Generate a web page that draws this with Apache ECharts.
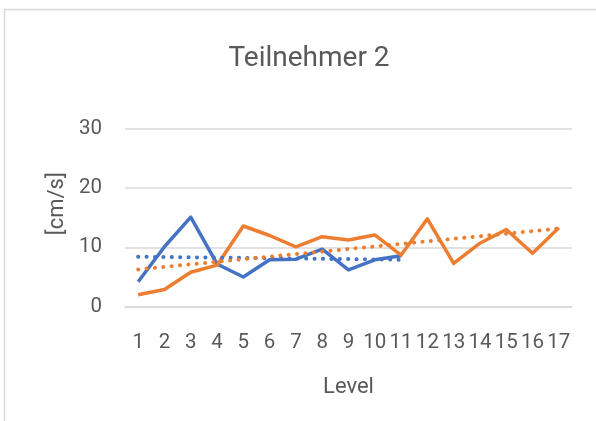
<!DOCTYPE html>
<html>
<head>
<meta charset="utf-8">
<script src="https://cdn.jsdelivr.net/npm/echarts@6/dist/echarts.min.js"></script>
<style>
  html, body { margin: 0; padding: 0; background: #fff; }
  #chart { width: 596px; height: 421px; }
</style>
</head>
<body>
<div id="chart"></div>
<script>
var levels = ['1', '2', '3', '4', '5', '6', '7', '8', '9', '10', '11', '12', '13', '14', '15', '16', '17']
var blueValues = [4.2, 10.1, 15.1, 7.2, 5.0, 7.9, 8.0, 9.7, 6.2, 7.9, 8.6]
var orangeValues = [2.0, 2.9, 5.8, 7.0, 13.6, 12.0, 10.1, 11.8, 11.25, 12.1, 8.7, 14.8, 7.3, 10.7, 13.0, 9.0, 13.3]
var yTicks = [0, 10, 20, 30]

// linear trend (least squares) like Excel's trendline
function trend (values) {
  var n = values.length
  var sx = 0, sy = 0, sxx = 0, sxy = 0
  values.forEach(function (v, i) {
    var x = i + 1
    sx += x; sy += v; sxx += x * x; sxy += x * v
  })
  var b = (n * sxy - sx * sy) / (n * sxx - sx * sx)
  var a = (sy - b * sx) / n
  return values.map(function (v, i) { return +(a + b * (i + 1)).toFixed(3) })
}

var textColor = '#595959'
var font = 'Roboto'
var myChart = echarts.init(document.getElementById('chart'))
var option = {
  animation: false,
  backgroundColor: '#fff',
  title: {
    text: 'Teilnehmer 2',
    left: 304,
    textAlign: 'center',
    top: 40,
    textStyle: { color: textColor, fontFamily: font, fontSize: 28, fontWeight: 'normal' }
  },
  graphic: [{
    type: 'rect',
    shape: { x: 4.5, y: 9.5, width: 700, height: 500 },
    style: { fill: 'none', stroke: '#d9d9d9', lineWidth: 1.5 },
    silent: true
  }],
  grid: { left: 125, right: 24, top: 128.7, bottom: 114.3 },
  xAxis: {
    type: 'category',
    data: levels,
    boundaryGap: true,
    name: 'Level',
    nameLocation: 'middle',
    nameGap: 70,
    nameTextStyle: { color: textColor, fontFamily: font, fontSize: 22 },
    axisLine: { show: true, lineStyle: { color: '#d9d9d9', width: 1.5 } },
    axisTick: { show: false },
    axisLabel: { color: textColor, fontFamily: font, fontSize: 20.5, margin: 26, interval: 0 }
  },
  yAxis: {
    type: 'value',
    min: yTicks[0],
    max: yTicks[yTicks.length - 1],
    interval: 10,
    name: '[cm/s]',
    nameLocation: 'middle',
    nameGap: 57,
    nameTextStyle: { color: textColor, fontFamily: font, fontSize: 22, padding: [0, 0, 0, 28] },
    axisLine: { show: false },
    axisTick: { show: false },
    axisLabel: { color: textColor, fontFamily: font, fontSize: 20.5, margin: 23 },
    splitLine: { lineStyle: { color: '#d9d9d9', width: 1.5 } }
  },
  series: [
    {
      name: 'Teilnehmer 2 A',
      type: 'line',
      data: blueValues,
      symbol: 'none',
      lineStyle: { color: '#4472C4', width: 3.5, join: 'round' }
    },
    {
      name: 'Teilnehmer 2 B',
      type: 'line',
      data: orangeValues,
      symbol: 'none',
      lineStyle: { color: '#ED7D31', width: 3.5, join: 'round' }
    },
    {
      name: 'Trend A',
      type: 'line',
      data: trend(blueValues),
      symbol: 'none',
      lineStyle: { color: '#4472C4', width: 4, type: [0.1, 8.3], cap: 'round' }
    },
    {
      name: 'Trend B',
      type: 'line',
      data: trend(orangeValues),
      symbol: 'none',
      lineStyle: { color: '#ED7D31', width: 4, type: [0.1, 8.3], cap: 'round' }
    }
  ]
}
myChart.setOption(option)
</script>
</body>
</html>
